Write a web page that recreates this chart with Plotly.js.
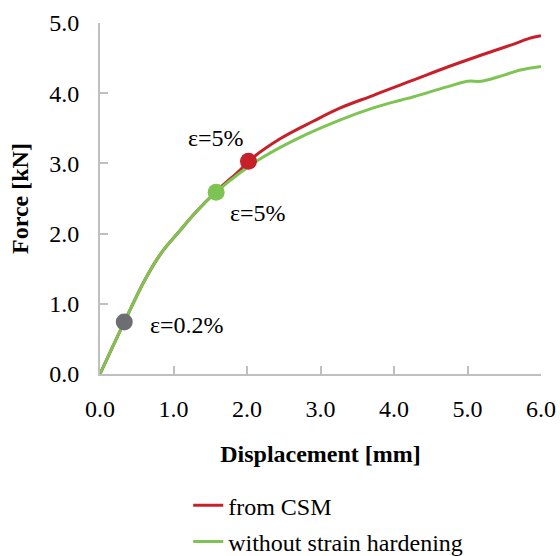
<!DOCTYPE html>
<html>
<head>
<meta charset="utf-8">
<script src="https://cdn.plot.ly/plotly-3.0.1.min.js"></script>
<style>html,body{margin:0;padding:0;background:#fff;}#chart{width:560px;height:556px;}</style>
</head>
<body>
<div id="chart"></div>
<script>
const csmX = [0, 0.33, 0.61, 0.83, 1.11, 1.29, 1.58, 1.91, 2.02, 2.45, 2.90, 3.27, 3.72, 4.09, 4.27, 4.72, 5.18, 5.63, 5.84, 5.91, 6.0];
const csmY = [0, 0.74, 1.34, 1.72, 2.07, 2.29, 2.60, 2.91, 3.03, 3.35, 3.60, 3.79, 3.97, 4.12, 4.19, 4.37, 4.54, 4.70, 4.78, 4.80, 4.82];
const noHardX = [0, 0.33, 0.61, 0.83, 1.11, 1.29, 1.58, 1.91, 2.22, 2.68, 3.27, 3.72, 4.09, 4.27, 4.72, 5.0, 5.18, 5.41, 5.72, 6.0];
const noHardY = [0, 0.74, 1.34, 1.72, 2.07, 2.29, 2.59, 2.87, 3.09, 3.35, 3.62, 3.79, 3.90, 3.95, 4.09, 4.17, 4.17, 4.23, 4.33, 4.38];
const seriesNames = ["from CSM", "without strain hardening"];
const pointX = [0.33, 1.58, 2.02];
const pointY = [0.74, 2.59, 3.03];
const pointLabels = ["ε=0.2%", "ε=5%", "ε=5%"];
const labelX = [1.19, 2.15, 1.58];
const labelY = [0.70, 2.29, 3.36];
const xTicks = [0, 1, 2, 3, 4, 5, 6];
const yTicks = [0, 1, 2, 3, 4, 5];

const red = "#C8202A", green = "#7DC452", gray = "#6D6E71";
const SERIF = "Liberation Serif";
const tickFont = {family: SERIF, size: 24, color: "#000"};
const titleFont = {family: SERIF, size: 24, color: "#000", weight: "bold"};

const traces = [
  {x: csmX, y: csmY, name: seriesNames[0], type: "scatter", mode: "lines", legendgroup: "a",
   line: {color: red, width: 3, shape: "spline", smoothing: 1}},
  {x: noHardX, y: noHardY, name: seriesNames[1], type: "scatter", mode: "lines", legendgroup: "b",
   line: {color: green, width: 3, shape: "spline", smoothing: 1}},
  {x: pointX, y: pointY, type: "scatter", mode: "markers", showlegend: false,
   marker: {size: 17, color: [gray, green, red]}}
];

const annotations = pointLabels.map((t, i) => ({
  x: labelX[i], y: labelY[i], xref: "x", yref: "y", text: t, showarrow: false,
  font: {family: SERIF, size: 24, color: "#000"}
}));

const axisCommon = {showgrid: false, zeroline: false, showline: true, linecolor: "#BFBFBF", linewidth: 2,
  ticks: "inside", ticklen: 8, tickwidth: 2, tickcolor: "#BFBFBF", tickfont: tickFont, tickformat: ".1f",
  fixedrange: true};

const layout = {
  width: 560, height: 556,
  margin: {l: 100, r: 19, t: 23, b: 182, autoexpand: false},
  paper_bgcolor: "#fff", plot_bgcolor: "#fff",
  font: {family: SERIF},
  showlegend: true,
  legend: {x: 0.2, y: 0.131, xref: "paper", yref: "container", xanchor: "left", yanchor: "top",
    font: {family: SERIF, size: 24, color: "#000"},
    tracegroupgap: 2, bgcolor: "rgba(0,0,0,0)"},
  xaxis: Object.assign({}, axisCommon, {range: [0, 6], tickvals: xTicks, ticklabelstandoff: 12,
    title: {text: "Displacement [mm]", font: titleFont, standoff: 24}}),
  yaxis: Object.assign({}, axisCommon, {range: [0, 5], tickvals: yTicks, ticklabelstandoff: 14,
    title: {text: "Force [kN]", font: titleFont, standoff: 14}}),
  annotations: annotations
};

Plotly.newPlot("chart", traces, layout, {displayModeBar: false, staticPlot: true});
</script>
</body>
</html>
